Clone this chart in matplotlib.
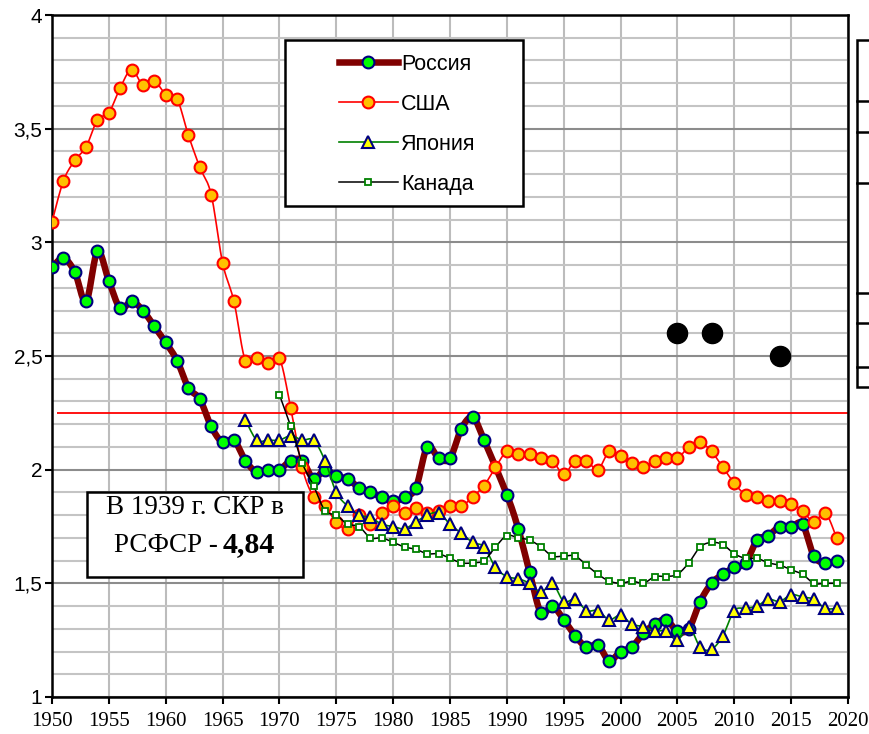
import numpy as np
import matplotlib
matplotlib.use("Agg")
import matplotlib.pyplot as plt
from matplotlib.lines import Line2D
from matplotlib.patches import Rectangle

# total fertility rate
years = list(range(1950, 2020))
russia = [2.89, 2.93, 2.87, 2.74, 2.96, 2.83, 2.71, 2.74, 2.70, 2.63,
          2.56, 2.48, 2.36, 2.31, 2.19, 2.12, 2.13, 2.04, 1.99, 2.00,
          2.00, 2.04, 2.04, 1.96, 2.00, 1.97, 1.96, 1.92, 1.90, 1.88,
          1.86, 1.88, 1.92, 2.10, 2.05, 2.05, 2.18, 2.23, 2.13, None,
          1.89, 1.74, 1.55, 1.37, 1.40, 1.34, 1.27, 1.22, 1.23, 1.16,
          1.20, 1.22, 1.28, 1.32, 1.34, 1.29, 1.30, 1.42, 1.50, 1.54,
          1.57, 1.59, 1.69, 1.71, 1.75, 1.75, 1.76, 1.62, 1.59, 1.60]
usa = [3.09, 3.27, 3.36, 3.42, 3.54, 3.57, 3.68, 3.76, 3.69, 3.71,
       3.65, 3.63, 3.47, 3.33, 3.21, 2.91, 2.74, 2.48, 2.49, 2.47,
       2.49, 2.27, 2.01, 1.88, 1.84, 1.77, 1.74, 1.80, 1.76, 1.81,
       1.84, 1.81, 1.83, 1.81, 1.82, 1.84, 1.84, 1.88, 1.93, 2.01,
       2.08, 2.07, 2.07, 2.05, 2.04, 1.98, 2.04, 2.04, 2.00, 2.08,
       2.06, 2.03, 2.01, 2.04, 2.05, 2.05, 2.10, 2.12, 2.08, 2.01,
       1.94, 1.89, 1.88, 1.86, 1.86, 1.85, 1.82, 1.77, 1.81, 1.70]
japan_years = list(range(1967, 2020))
japan = [2.22, 2.13, 2.13,
         2.13, 2.15, 2.13, 2.13, 2.04, 1.90, 1.84, 1.80, 1.79, 1.76,
         1.75, 1.74, 1.77, 1.80, 1.81, 1.76, 1.72, 1.68, 1.66, 1.57,
         1.53, 1.52, 1.50, 1.46, 1.50, 1.42, 1.43, 1.38, 1.38, 1.34,
         1.36, 1.32, 1.31, 1.29, 1.29, 1.25, 1.31, 1.22, 1.21, 1.27,
         1.38, 1.39, 1.40, 1.43, 1.42, 1.45, 1.44, 1.43, 1.39, 1.39]
canada_years = list(range(1970, 2020))
canada = [2.33, 2.19, 2.03, 1.93, 1.82, 1.80, 1.76, 1.75, 1.70, 1.70,
          1.68, 1.66, 1.65, 1.63, 1.63, 1.61, 1.59, 1.59, 1.60, 1.66,
          1.71, 1.70, 1.69, 1.66, 1.62, 1.62, 1.62, 1.58, 1.54, 1.51,
          1.50, 1.51, 1.50, 1.53, 1.53, 1.54, 1.59, 1.66, 1.68, 1.67,
          1.63, 1.61, 1.61, 1.59, 1.58, 1.56, 1.54, 1.50, 1.50, 1.50]
dot_years = [2005, 2008, 2014]
dot_vals = [2.6, 2.6, 2.5]
replacement = 2.25

W, H = 870, 734


def smooth(xs, ys, n=16):
    # excel-like smoothed line (bezier through the points)
    pts = [(x, y) for x, y in zip(xs, ys) if y is not None]
    p = np.array(pts, dtype=float)
    p = np.vstack([p[0], p, p[-1]])
    t = np.linspace(0, 1, n)[:, None]
    out = []
    for i in range(1, len(p) - 2):
        p0, p1, p2, p3 = p[i - 1], p[i], p[i + 1], p[i + 2]
        c1 = p1 + (p2 - p0) / 6
        c2 = p2 - (p3 - p1) / 6
        seg = ((1 - t) ** 3) * p1 + 3 * ((1 - t) ** 2) * t * c1 + 3 * (1 - t) * t ** 2 * c2 + t ** 3 * p2
        out.append(seg)
    out = np.vstack(out)
    return out[:, 0], out[:, 1]


def pts(xs, ys):
    xy = [(x, y) for x, y in zip(xs, ys) if y is not None]
    return [a for a, b in xy], [b for a, b in xy]


fig = plt.figure(figsize=(W / 100, H / 100), dpi=100)
ax = fig.add_axes([52 / W, 1 - 697 / H, (848 - 52) / W, (697 - 15) / H])

ax.set_xlim(1950, 2020)
ax.set_ylim(1, 4)
ax.set_xticks(range(1950, 2021, 5))
ax.set_yticks(np.arange(1, 4.01, 0.5))
ax.set_yticks(np.arange(1, 4.01, 0.1), minor=True)
ax.set_yticklabels(["1", "1,5", "2", "2,5", "3", "3,5", "4"],
                   family="Liberation Sans", fontsize=15)
ax.set_xticklabels([str(y) for y in range(1950, 2021, 5)],
                   family="Liberation Serif", fontsize=15)
ax.tick_params(axis="both", which="major", direction="out", length=5, width=1.5, color="black")
ax.tick_params(axis="y", which="major", pad=2)
ax.tick_params(axis="x", which="major", pad=6)
ax.tick_params(which="minor", length=0)
ax.grid(which="minor", axis="y", color="#c4c4c4", lw=1.5)
ax.grid(which="major", axis="y", color="#8c8c8c", lw=1.5)
ax.grid(which="major", axis="x", color="#bcbcbc", lw=1.5)
ax.set_axisbelow(True)
for s in ax.spines.values():
    s.set_linewidth(1.8)
    s.set_color("black")

ax.hlines(replacement, 1950.4, 2020, color="red", lw=1.3, zorder=2)

# Россия
sx, sy = smooth(years, russia)
ax.plot(sx, sy, color="#800000", lw=4.7, zorder=3, solid_capstyle="round")
px, py = pts(years, russia)
ax.plot(px, py, ls="none", marker="o", ms=8.5, mfc="#00ff00", mec="#000080", mew=1.5, zorder=4)

# США
sx, sy = smooth(years, usa)
ax.plot(sx, sy, color="red", lw=1.2, zorder=5)
ax.plot(years, usa, ls="none", marker="o", ms=8.5, mfc="#ffc000", mec="red", mew=1.5, zorder=6)

# Япония
sx, sy = smooth(japan_years, japan)
ax.plot(sx, sy, color="#008000", lw=1.2, zorder=7)
ax.plot(japan_years, japan, ls="none", marker="^", ms=9, mfc="yellow", mec="#000080", mew=1.5, zorder=8)

# Канада
sx, sy = smooth(canada_years, canada)
ax.plot(sx, sy, color="black", lw=1.1, zorder=9)
ax.plot(canada_years, canada, ls="none", marker="s", ms=5, mfc="white", mec="#008000", mew=1.3, zorder=10)

ax.plot(dot_years, dot_vals, ls="none", marker="o", ms=14.5, color="black", zorder=11)

# legend
handles = [
    Line2D([], [], color="#800000", lw=4.7, marker="o", ms=8.5, mfc="#00ff00", mec="#000080", mew=1.5),
    Line2D([], [], color="red", lw=1.2, marker="o", ms=8.5, mfc="#ffc000", mec="red", mew=1.5),
    Line2D([], [], color="#008000", lw=1.2, marker="^", ms=9, mfc="yellow", mec="#000080", mew=1.5),
    Line2D([], [], color="black", lw=1.1, marker="s", ms=5, mfc="white", mec="#008000", mew=1.3),
]
fig.patches.append(Rectangle((285 / W, 1 - 206 / H), (523 - 285) / W, (206 - 40) / H,
                             transform=fig.transFigure, fc="white", ec="black", lw=1.8, zorder=20))
leg = fig.legend(handles, ["Россия", "США", "Япония", "Канада"],
                 loc="upper left", bbox_to_anchor=(328 / W, 1 - 43 / H),
                 frameon=False, prop={"family": "Liberation Sans", "size": 15.5},
                 handlelength=2.75, handletextpad=0.15, labelspacing=0.88, borderpad=0)
leg.set_zorder(21)

# text box
fig.patches.append(Rectangle((87 / W, 1 - 577 / H), (303 - 87) / W, (577 - 492) / H,
                             transform=fig.transFigure, fc="white", ec="black", lw=1.8, zorder=20))
fig.text(195 / W, 1 - 508 / H, "В 1939 г. СКР в", ha="center", va="center",
         family="Liberation Serif", fontsize=19.5, zorder=21)
fig.text(218 / W, 1 - 546 / H, "РСФСР -", ha="right", va="center",
         family="Liberation Serif", fontsize=19.5, zorder=21)
fig.text(223 / W, 1 - 545 / H, "4,84", ha="left", va="center",
         family="Liberation Serif", fontsize=21.5, weight="bold", zorder=21)

# clipped box at the right edge
fig.patches.append(Rectangle((857 / W, 1 - 387 / H), 40 / W, (387 - 40) / H,
                             transform=fig.transFigure, fc="white", ec="black", lw=1.8, zorder=20))
for yy in [101, 132, 183, 293, 323, 367]:
    fig.lines.append(Line2D([857 / W, 1], [1 - yy / H, 1 - yy / H], transform=fig.transFigure,
                            color="black", lw=1.8, zorder=21))

fig.savefig("out.png", dpi=100)
